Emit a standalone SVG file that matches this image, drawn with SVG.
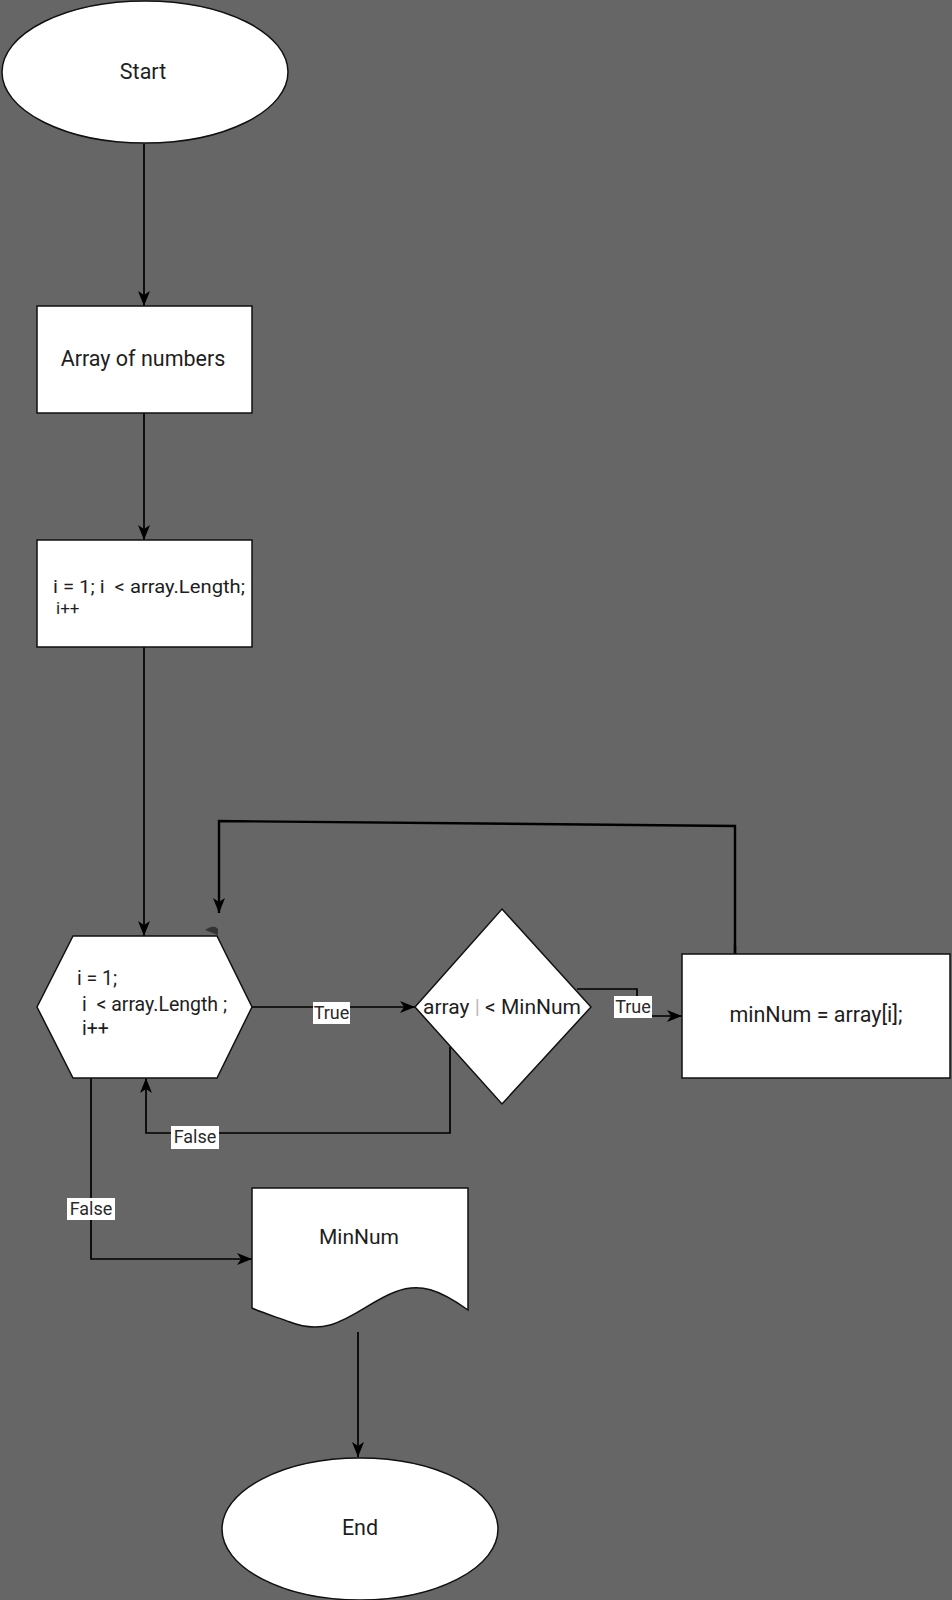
<svg xmlns="http://www.w3.org/2000/svg" width="952" height="1600" viewBox="0 0 952 1600">
  <defs>
    <marker id="arrow" viewBox="0 0 15 12" refX="15" refY="6" markerWidth="15" markerHeight="12" markerUnits="userSpaceOnUse" orient="auto">
      <path d="M0,0 L15,6 L0,12 L4,6 Z" fill="#000"/>
    </marker>
    <style>
      .shape { fill: #fff; stroke: #111; stroke-width: 1.5; }
      .lbl { font-family: Roboto, "Liberation Sans", sans-serif; fill: #1e1e1e; }
      .conn { fill: none; stroke: #000; stroke-width: 1.7; }
      .loop { fill: none; stroke: #000; stroke-width: 2.4; }
      .tagbg { fill: #fff; }
      .tag { font-family: Roboto, "Liberation Sans", sans-serif; font-size: 18px; fill: #2a2a2a; }
    </style>
  </defs>

  <rect width="952" height="1600" fill="#666"/>

  <!-- connectors -->
  <g id="connectors">
    <path class="conn" d="M144,144 V306" marker-end="url(#arrow)"/>
    <path class="conn" d="M144,413 V540" marker-end="url(#arrow)"/>
    <path class="conn" d="M144,647 V936" marker-end="url(#arrow)"/>
    <path class="conn" d="M252,1007 H415" marker-end="url(#arrow)"/>
    <path class="conn" d="M577,989 H637 V1016 H682" marker-end="url(#arrow)"/>
    <path class="loop" d="M735,959 V826 L219,821 V913" marker-end="url(#arrow)"/>
    <path class="loop" d="M735,945 V962" stroke-width="3.5"/>
    <path d="M205,930 Q214,924 218,929 L218,935 Z" fill="#333"/>
    <path class="conn" d="M450,1047 V1133 H146 V1078" marker-end="url(#arrow)"/>
    <path class="conn" d="M91,1078 V1259 H252" marker-end="url(#arrow)"/>
    <path class="conn" d="M358,1332 V1457" marker-end="url(#arrow)"/>

    <rect class="tagbg" x="313" y="1002" width="37" height="22"/>
    <text class="tag" x="331.5" y="1019" text-anchor="middle">True</text>
    <rect class="tagbg" x="614" y="996" width="38" height="22"/>
    <text class="tag" x="633" y="1013" text-anchor="middle">True</text>
    <rect class="tagbg" x="171" y="1126" width="48" height="23"/>
    <text class="tag" x="195" y="1143" text-anchor="middle">False</text>
    <rect class="tagbg" x="67" y="1198" width="48" height="22"/>
    <text class="tag" x="91" y="1215" text-anchor="middle">False</text>
  </g>

  <g id="start">
    <ellipse class="shape" cx="145" cy="72" rx="143" ry="71"/>
    <text class="lbl" x="143" y="79" font-size="21.5" text-anchor="middle">Start</text>
  </g>

  <g id="input-array">
    <rect class="shape" x="37" y="306" width="215" height="107"/>
    <text class="lbl" x="143" y="366" font-size="21.5" text-anchor="middle">Array of numbers</text>
  </g>

  <g id="loop-init">
    <rect class="shape" x="37" y="540" width="215" height="107"/>
    <text class="lbl" x="53" y="593" font-size="19" textLength="192" lengthAdjust="spacingAndGlyphs" xml:space="preserve">i = 1; i  &lt; array.Length;</text>
    <text class="lbl" x="56" y="614" font-size="17">i++</text>
  </g>

  <g id="loop">
    <polygon class="shape" points="37,1007 73,936 217,936 252,1007 217,1078 73,1078"/>
    <text class="lbl" x="77" y="985" font-size="19.5">i = 1;</text>
    <text class="lbl" x="82" y="1011" font-size="19.5" xml:space="preserve">i  &lt; array.Length ;</text>
    <text class="lbl" x="82" y="1035" font-size="19.5">i++</text>
  </g>

  <g id="compare">
    <polygon class="shape" points="502,909 591,1007 502,1104 415,1007"/>
    <text class="lbl" x="502" y="1014" font-size="21" text-anchor="middle">array <tspan fill="#bbb">|</tspan> &lt; MinNum</text>
  </g>

  <g id="assign">
    <rect class="shape" x="682" y="954" width="268" height="124"/>
    <text class="lbl" x="816" y="1022" font-size="21.5" text-anchor="middle">minNum = array[i];</text>
  </g>

  <g id="output">
    <path class="shape" d="M252,1188 H468 V1310 C440,1290 420,1282 395,1292 C360,1305 335,1340 290,1322 C270,1315 260,1312 252,1308 Z"/>
    <text class="lbl" x="359" y="1244" font-size="21" text-anchor="middle">MinNum</text>
  </g>

  <g id="end">
    <ellipse class="shape" cx="360" cy="1529" rx="138" ry="71"/>
    <text class="lbl" x="360" y="1535" font-size="21.5" text-anchor="middle">End</text>
  </g>
</svg>
